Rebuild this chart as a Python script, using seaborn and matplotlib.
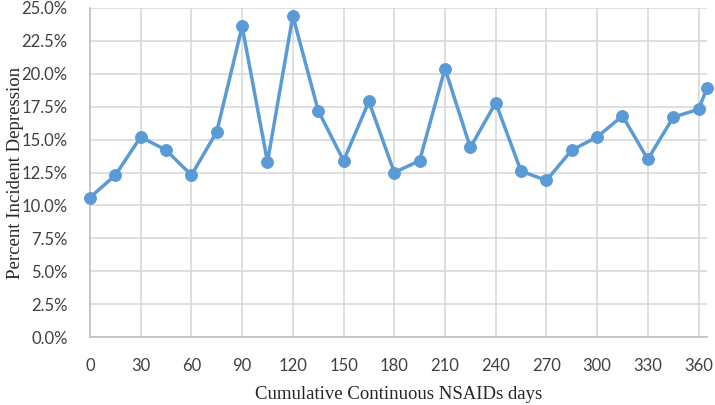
import pandas as pd
import matplotlib
matplotlib.use("Agg")
import matplotlib.pyplot as plt
import seaborn as sns
from matplotlib.ticker import FuncFormatter

days = [0, 15, 30, 45, 60, 75, 90, 105, 120, 135, 150, 165, 180, 195,
        210, 225, 240, 255, 270, 285, 300, 315, 330, 345, 360, 365]
pct_depression = [10.6, 12.3, 15.2, 14.2, 12.3, 15.6, 23.6, 13.3, 24.4, 17.2,
                  13.4, 17.9, 12.5, 13.4, 20.4, 14.4, 17.8, 12.6, 11.9, 14.2,
                  15.2, 16.8, 13.5, 16.7, 17.3, 18.9]
x_ticks = list(range(0, 361, 30))
y_ticks = [0, 2.5, 5, 7.5, 10, 12.5, 15, 17.5, 20, 22.5, 25]

df = pd.DataFrame({"days": days, "pct": pct_depression})

sns.set_style("white")
plt.rcParams["font.family"] = ["Lato", "DejaVu Sans"]

fig = plt.figure(figsize=(7.15, 4.05), dpi=100)
ax = fig.add_axes([90 / 715, 1 - 337 / 405, 617 / 715, 329 / 405])

sns.lineplot(data=df, x="days", y="pct", ax=ax, color="#5b9bd5",
             linewidth=2.5, marker="o", markersize=8.5,
             markeredgecolor="#5b9bd5", zorder=3, clip_on=False)

ax.set_xlim(0, 365)
ax.set_ylim(0, 25)
ax.set_xticks(x_ticks)
ax.set_yticks(y_ticks)
ax.yaxis.set_major_formatter(FuncFormatter(lambda v, _: f"{v:.1f}%"))
ax.grid(True, color="#d9d9d9", linewidth=1.2)
ax.set_axisbelow(True)
ax.tick_params(axis="both", length=0, labelsize=12, colors="#404040")
ax.tick_params(axis="x", pad=15)
ax.tick_params(axis="y", pad=16)

for side in ["top", "right"]:
    ax.spines[side].set_visible(False)
for side in ["left", "bottom"]:
    ax.spines[side].set_color("#bfbfbf")
    ax.spines[side].set_linewidth(1.2)

ax.set_xlabel("Cumulative Continuous NSAIDs days", fontsize=13.5,
              family="Liberation Serif", color="#262626", va="center")
ax.set_ylabel("Percent Incident Depression", fontsize=13.5,
              family="Liberation Serif", color="#262626", va="center")
ax.xaxis.set_label_coords(0.5, -0.176)
ax.yaxis.set_label_coords(-0.121, 0.5)

fig.savefig("out.png", dpi=100)
